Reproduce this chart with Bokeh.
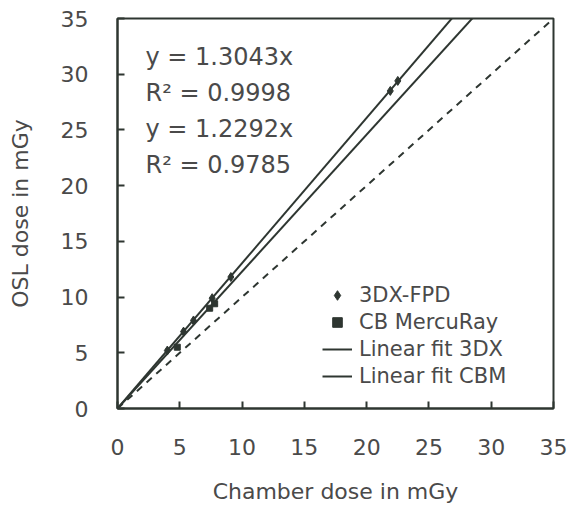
from bokeh.plotting import figure
from bokeh.models import FixedTicker, Label, Range1d, Legend, LegendItem
from bokeh.embed import file_html
from bokeh.resources import INLINE

# ---- data ----
x_3dx = [4.0, 5.3, 6.1, 7.6, 9.1, 21.9, 22.5]
y_3dx = [5.2, 6.9, 7.9, 9.9, 11.8, 28.5, 29.4]
x_cbm = [4.8, 7.4, 7.8]
y_cbm = [5.5, 9.0, 9.4]
slope_3dx = 1.3043
r2_3dx = 0.9998
slope_cbm = 1.2292
r2_cbm = 0.9785
fit_x = [0, 35]
ident_x = [0, 35]
ticks = [0, 5, 10, 15, 20, 25, 30, 35]

FONT = "DejaVu Sans"
TXT = "#4a4a4a"
LN = "#2e3631"

p = figure(width=568, height=508, output_backend="svg", toolbar_location=None,
           x_range=Range1d(0, 35), y_range=Range1d(0, 35),
           min_border_left=117, min_border_right=15, min_border_top=18, min_border_bottom=100)
p.background_fill_color = "white"
p.border_fill_color = "white"
p.outline_line_color = LN
p.outline_line_width = 2
p.xgrid.visible = False
p.ygrid.visible = False

for ax in (p.xaxis[0], p.yaxis[0]):
    ax.ticker = FixedTicker(ticks=ticks)
    ax.major_tick_in = 7
    ax.major_tick_out = 0
    ax.minor_tick_line_color = None
    ax.major_tick_line_color = LN
    ax.major_tick_line_width = 2
    ax.axis_line_color = LN
    ax.axis_line_width = 2
    ax.major_label_text_font = FONT
    ax.major_label_text_font_size = "22px"
    ax.major_label_text_color = TXT
    ax.axis_label_text_font = FONT
    ax.axis_label_text_font_size = "22px"
    ax.axis_label_text_font_style = "normal"
    ax.axis_label_text_color = TXT

p.xaxis.axis_label = "Chamber dose in mGy"
p.yaxis.axis_label = "OSL dose in mGy"
p.xaxis.major_label_standoff = 30
p.yaxis.major_label_standoff = 29
p.xaxis.axis_label_standoff = 21
p.yaxis.axis_label_standoff = 25

# identity dashed line
p.line(ident_x, ident_x, line_color=LN, line_width=2, line_dash="7 6")
# fits
r_fit1 = p.line(fit_x, [slope_3dx * v for v in fit_x], line_color=LN, line_width=2)
r_fit2 = p.line(fit_x, [slope_cbm * v for v in fit_x], line_color=LN, line_width=2)
# points
r_3dx = p.scatter(x_3dx, y_3dx, marker="diamond", size=9, fill_color=LN, line_color=LN)
r_cbm = p.scatter(x_cbm, y_cbm, marker="square", size=6, fill_color=LN, line_color=LN)

legend = Legend(items=[
    LegendItem(label="3DX-FPD", renderers=[r_3dx]),
    LegendItem(label="CB MercuRay", renderers=[r_cbm]),
    LegendItem(label="Linear fit 3DX", renderers=[r_fit1]),
    LegendItem(label="Linear fit CBM", renderers=[r_fit2]),
], location=(205, 20))
legend.border_line_alpha = 0
legend.background_fill_alpha = 0
legend.label_text_font = FONT
legend.label_text_font_size = "21px"
legend.label_text_color = TXT
legend.label_height = 24
legend.glyph_height = 24
legend.glyph_width = 30
legend.spacing = 3
legend.padding = 0
legend.margin = 0
legend.label_standoff = 7
p.add_layout(legend, "center")

# equation annotations (screen offsets from the frame's lower-left corner)
ann = [f"y = {slope_3dx}x", f"R\u00b2 = {r2_3dx}", f"y = {slope_cbm}x", f"R\u00b2 = {r2_cbm}"]
tops = [366, 330, 294, 258]
for t, yt in zip(ann, tops):
    p.add_layout(Label(x=28, y=yt, x_units="screen", y_units="screen", text=t,
                       text_font=FONT, text_font_size="24px", text_color=TXT,
                       text_baseline="top"))

html = file_html(p, INLINE)
open("out.html", "w").write(html)
